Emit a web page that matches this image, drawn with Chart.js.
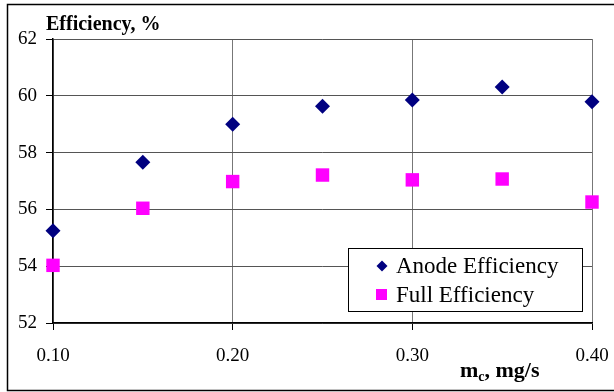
<!DOCTYPE html>
<html>
<head>
<meta charset="utf-8">
<script src="https://cdn.jsdelivr.net/npm/chart.js@4/dist/chart.umd.min.js"></script>
<style>
  html, body { margin: 0; padding: 0; background: #fff; }
  #wrap { width: 614px; height: 392px; position: relative; }
</style>
</head>
<body>
<div id="wrap"><canvas id="effChart"></canvas></div>
<script>
// data
var flowRates = [0.10, 0.15, 0.20, 0.25, 0.30, 0.35, 0.40];
var anodeEfficiency = [55.25, 57.66, 59.0, 59.63, 59.85, 60.31, 59.79];
var fullEfficiency = [54.03, 56.04, 56.98, 57.21, 57.04, 57.07, 56.26];
var seriesNames = ["Anode Efficiency", "Full Efficiency"];
var yTitle = "Efficiency, %";

function toPoints(xs, ys) {
    return xs.map(function(x, i) { return { x: x, y: ys[i] }; });
}

var serif = "'Liberation Serif', 'Times New Roman', serif";

// outer frame, titles and the boxed legend inside the plot
var decorations = {
    id: "decorations",
    afterDraw: function(chart) {
        var ctx = chart.ctx;
        ctx.save();
        // frame
        ctx.strokeStyle = "#000";
        ctx.lineWidth = 1.5;
        ctx.strokeRect(7.5, 4.5, 614, 386);

        // y title
        ctx.fillStyle = "#000";
        ctx.font = "bold 20px " + serif;
        ctx.textBaseline = "alphabetic";
        ctx.textAlign = "left";
        ctx.fillText(yTitle, 46, 30);

        // x title with subscript
        ctx.font = "bold 22px " + serif;
        ctx.fillText("m", 460, 377);
        var mw = ctx.measureText("m").width;
        ctx.font = "bold 14px " + serif;
        ctx.fillText("c", 460 + mw, 381);
        var cw = ctx.measureText("c").width;
        ctx.font = "bold 22px " + serif;
        ctx.fillText(", mg/s", 460 + mw + cw, 377);

        // legend
        var bx = 348, by = 248, bw = 234, bh = 63;
        ctx.fillStyle = "#fff";
        ctx.fillRect(bx, by, bw, bh);
        ctx.strokeStyle = "#000";
        ctx.lineWidth = 1;
        ctx.strokeRect(bx + 0.5, by + 0.5, bw, bh);
        ctx.font = "23px " + serif;
        ctx.textBaseline = "middle";
        chart.data.datasets.forEach(function(ds, i) {
            var cy = by + 18 + i * 29;
            ctx.fillStyle = ds.backgroundColor;
            if (ds.pointStyle === "rectRot") {
                ctx.beginPath();
                ctx.moveTo(382, cy - 5.5);
                ctx.lineTo(387.5, cy);
                ctx.lineTo(382, cy + 5.5);
                ctx.lineTo(376.5, cy);
                ctx.closePath();
                ctx.fill();
            } else {
                ctx.fillRect(376, cy - 6, 11, 11);
            }
            ctx.fillStyle = "#000";
            ctx.fillText(ds.label, 396, cy + 1);
        });
        ctx.restore();
    }
};

var ctx = document.getElementById("effChart").getContext("2d");
var effChart = new Chart(ctx, {
    type: "scatter",
    data: {
        datasets: [{
            label: seriesNames[0],
            data: toPoints(flowRates, anodeEfficiency),
            pointStyle: "rectRot",
            pointRadius: 7.5,
            backgroundColor: "#000080",
            borderColor: "#000080",
            borderWidth: 0,
            clip: false
        }, {
            label: seriesNames[1],
            data: toPoints(flowRates, fullEfficiency),
            pointStyle: "rect",
            pointRadius: 9.5,
            backgroundColor: "#ff00ff",
            borderColor: "#ff00ff",
            borderWidth: 0,
            clip: false
        }]
    },
    options: {
        responsive: true,
        maintainAspectRatio: false,
        animation: false,
        layout: { padding: { left: 0, right: 22, top: 39, bottom: 0 } },
        plugins: {
            legend: { display: false },
            tooltip: { enabled: false }
        },
        scales: {
            x: {
                type: "linear",
                min: 0.1,
                max: 0.4,
                afterFit: function(s) {
                    s.height = 69;
                    s.paddingLeft = 0;
                    s.paddingRight = 0;
                },
                ticks: {
                    stepSize: 0.1,
                    color: "#000",
                    font: { family: serif, size: 19 },
                    padding: 15,
                    maxRotation: 0,
                    callback: function(v) { return v.toFixed(2); }
                },
                grid: { color: "#777", tickColor: "#000", tickLength: 7 },
                border: { color: "#000", width: 1.5 }
            },
            y: {
                min: 52,
                max: 62,
                afterFit: function(s) { s.width = 53; },
                ticks: {
                    stepSize: 2,
                    color: "#000",
                    font: { family: serif, size: 19 },
                    padding: 9
                },
                grid: { color: "#555", tickColor: "#000", tickLength: 7 },
                border: { color: "#000", width: 1.5 }
            }
        }
    },
    plugins: [decorations]
});
</script>
</body>
</html>
